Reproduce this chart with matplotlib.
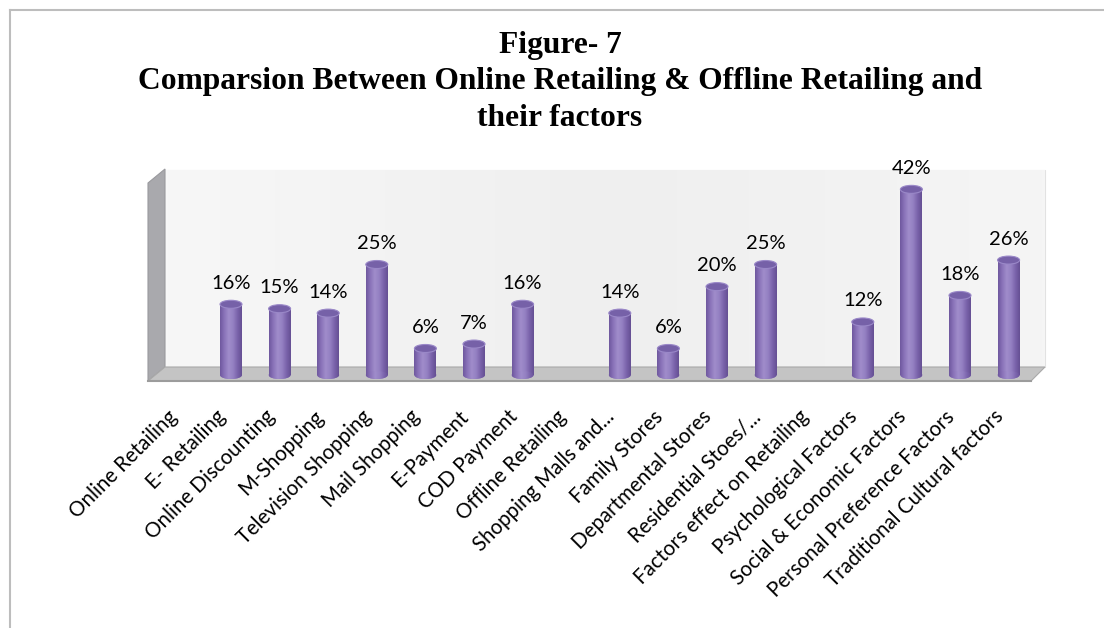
import numpy as np
import matplotlib
matplotlib.use("Agg")
import matplotlib.pyplot as plt
from matplotlib.patches import Rectangle, Ellipse, Polygon
from matplotlib.lines import Line2D

categories = ["Online Retailing", "E- Retailing", "Online Discounting", "M-Shopping",
              "Television Shopping", "Mail Shopping", "E-Payment", "COD Payment",
              "Offline Retailing", "Shopping Malls and...", "Family Stores",
              "Departmental Stores", "Residential Stoes/...", "Factors effect on Retailing",
              "Psychological Factors", "Social & Economic Factors",
              "Personal Preference Factors", "Traditional Cultural factors"]
values = [None, 16, 15, 14, 25, 6, 7, 16, None, 14, 6, 20, 25, None, 12, 42, 18, 26]
title_lines = ["Figure- 7", "Comparsion Between Online Retailing & Offline Retailing and", "their factors"]

W, H = 1104, 628
fig = plt.figure(figsize=(W / 100, H / 100), dpi=100)
fig.patch.set_facecolor("white")

# outer frame (top/left visible)
fig.add_artist(Line2D([10 / W, 10 / W], [0, 1 - 10 / H], color="#bdbdbd", lw=1.5))
fig.add_artist(Line2D([10 / W, 1], [1 - 10 / H, 1 - 10 / H], color="#bdbdbd", lw=1.5))

# title
title_y = [46, 82, 119]
for t, yy in zip(title_lines, title_y):
    fig.text(560 / W, 1 - yy / H, t, ha="center", va="center",
             fontfamily="Liberation Serif", fontweight="bold", fontsize=22.7, color="black")

# axes geometry in pixels
L, R, T, B = 146, 1050, 160, 386
x0, dx = 182.4, 48.6
yb, s = 375.0, 4.42
ax = fig.add_axes([L / W, 1 - B / H, (R - L) / W, (B - T) / H])
ax.set_xlim((L - x0) / dx, (R - x0) / dx)
ax.set_ylim((yb - B) / s, (yb - T) / s)
ax.axis("off")

def px(xp):
    return (xp - x0) / dx

def py(yp):
    return (yb - yp) / s

# back wall with soft gradient
wall = Rectangle((px(165), py(367)), px(1045) - px(165), py(170) - py(367),
                 facecolor="#f4f4f4", edgecolor="#e2e2e2", lw=0.8, zorder=0)
ax.add_patch(wall)
grad = np.linspace(0, 1, 256).reshape(1, -1)
im = ax.imshow(grad, cmap=matplotlib.colors.LinearSegmentedColormap.from_list(
    "w", ["#f7f7f7", "#efefef", "#f5f5f5"]), aspect="auto",
    extent=[px(165), px(1045), py(367), py(170)], zorder=0.5)
im.set_clip_path(wall)

# left side wall
side = Polygon([(px(148), py(183)), (px(165), py(169)), (px(165), py(367)), (px(148), py(381))],
               closed=True, facecolor="#a9a9ad", edgecolor="#9a9a9e", lw=0.8, zorder=1)
ax.add_patch(side)
# floor
floor = Polygon([(px(165), py(367)), (px(1045), py(367)), (px(1031), py(381)), (px(148), py(381))],
                closed=True, facecolor="#c4c4c4", edgecolor="#a9a9a9", lw=0.8, zorder=1)
ax.add_patch(floor)
ax.add_line(Line2D([px(148), px(1031)], [py(381), py(381)], color="#9c9c9c", lw=1.5, zorder=1.2))

# cylinders
bw = 22 / dx
eh = 8 / s
cyl_cmap = matplotlib.colors.LinearSegmentedColormap.from_list(
    "cyl", ["#6e579e", "#8a73b9", "#a08dcb", "#9480c2", "#7a63ab", "#654f93"])
for i, v in enumerate(values):
    if v is None:
        continue
    body = Rectangle((i - bw / 2, 0), bw, v, facecolor="#8a74b8", edgecolor="none", zorder=2)
    ax.add_patch(body)
    gi = ax.imshow(grad, cmap=cyl_cmap, aspect="auto",
                   extent=[i - bw / 2, i + bw / 2, 0, v], zorder=2.1)
    gi.set_clip_path(body)
    bot = Ellipse((i, 0), bw, eh, facecolor="#8a74b8", edgecolor="none", zorder=2)
    ax.add_patch(bot)
    gb = ax.imshow(grad, cmap=cyl_cmap, aspect="auto",
                   extent=[i - bw / 2, i + bw / 2, -eh / 2, eh / 2], zorder=2.1)
    gb.set_clip_path(bot)
    top = Ellipse((i, v), bw, eh, facecolor="#7661a8", edgecolor="#9a88c8", lw=0.8, zorder=2.3)
    ax.add_patch(top)
    ax.annotate(f"{v}%", (i, v), xytext=(0, 9), textcoords="offset points",
                ha="center", va="bottom", fontsize=14.5, fontfamily="Lato", color="black",
                zorder=3)

# category labels
for i, c in enumerate(categories):
    ax.annotate(c, (i, py(381)), xytext=(-6, -23.5), textcoords="offset points",
                ha="right", va="center", rotation=45, rotation_mode="anchor",
                fontsize=14.8, fontfamily="Lato", color="black", annotation_clip=False)

fig.savefig("out.png", dpi=100)
